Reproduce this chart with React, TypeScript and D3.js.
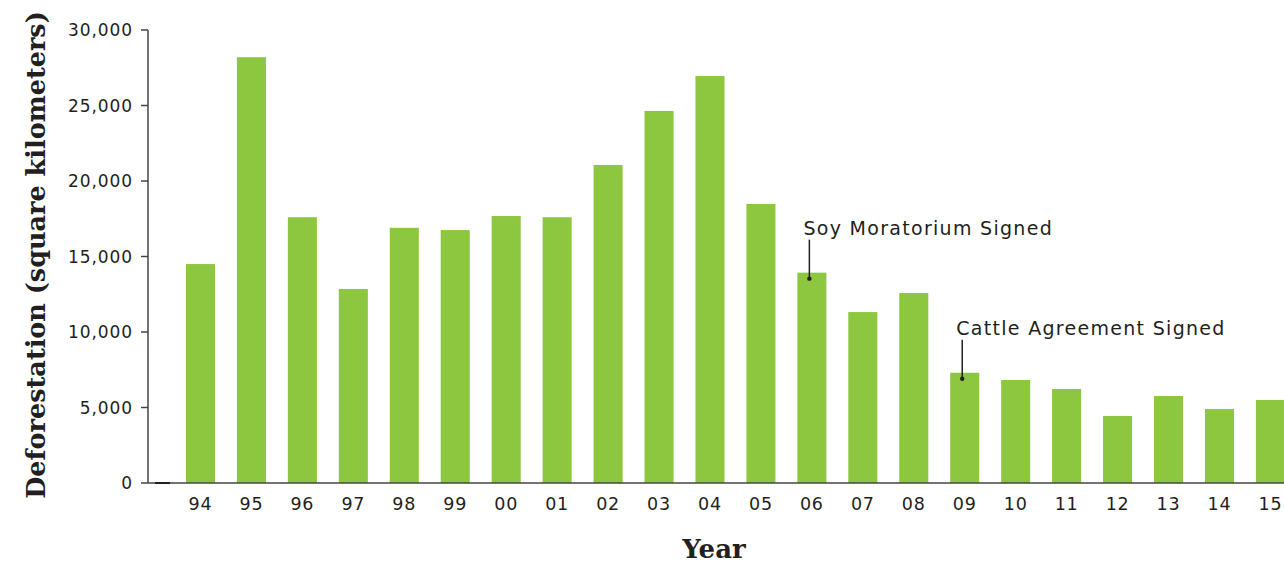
import { useMemo } from 'react';
import * as d3 from 'd3';

const YEARS = ['94', '95', '96', '97', '98', '99', '00', '01', '02', '03', '04', '05', '06', '07', '08', '09', '10', '11', '12', '13', '14', '15'];
const DEFORESTATION = [14500, 28200, 17600, 12850, 16900, 16750, 17680, 17600, 21060, 24640, 26950, 18480, 13930, 11320, 12580, 7300, 6820, 6225, 4440, 5760, 4900, 5500];
const Y_TICKS = [0, 5000, 10000, 15000, 20000, 25000, 30000];
const ANNOTATIONS = [
  { year: '06', label: 'Soy Moratorium Signed' },
  { year: '09', label: 'Cattle Agreement Signed' },
];

const WIDTH = 1284;
const HEIGHT = 566;
const SANS = '"DejaVu Sans", "Noto Sans", sans-serif';
const SERIF = '"DejaVu Serif", "Liberation Serif", serif';
const AXIS = '#444444';
const INK = '#231f20';
const GREEN = '#8dc63f';

export default function App() {
  const x = useMemo(
    () =>
      d3
        .scaleBand<string>()
        .domain(YEARS)
        .range([175, 175 + 22 * 50.95])
        .paddingInner(0.43)
        .paddingOuter(0.215),
    [],
  );
  const y = useMemo(() => d3.scaleLinear().domain([0, 30000]).range([483, 30]), []);
  const fmt = d3.format(',');

  return (
    <svg
      width={WIDTH}
      height={HEIGHT}
      style={{ position: 'absolute', left: 0, top: 0, display: 'block', background: '#fff' }}
    >
      {/* bars */}
      {YEARS.map((yr, i) => (
        <rect
          key={yr}
          x={x(yr)}
          y={y(DEFORESTATION[i])}
          width={x.bandwidth()}
          height={y(0) - y(DEFORESTATION[i])}
          fill={GREEN}
        />
      ))}

      {/* y axis */}
      <line x1={148} x2={148} y1={y(30000)} y2={y(0)} stroke={AXIS} strokeWidth={1.5} />
      {Y_TICKS.map((t) => (
        <g key={t} transform={`translate(148, ${y(t)})`}>
          <line x1={-7} x2={0} stroke={AXIS} strokeWidth={1.5} />
          <text
            x={-15}
            dy="0.36em"
            textAnchor="end"
            fontFamily={SANS}
            fontSize={17}
            letterSpacing={0.9}
            fill={INK}
          >
            {fmt(t)}
          </text>
        </g>
      ))}

      {/* x axis */}
      <line x1={148} x2={WIDTH} y1={y(0)} y2={y(0)} stroke={AXIS} strokeWidth={1.5} />
      <line x1={155} x2={170} y1={y(0)} y2={y(0)} stroke={INK} strokeWidth={2} />
      {YEARS.map((yr) => (
        <text
          key={yr}
          x={(x(yr) ?? 0) + x.bandwidth() / 2}
          y={510}
          textAnchor="middle"
          fontFamily={SANS}
          fontSize={17.5}
          letterSpacing={0.8}
          fill={INK}
        >
          {yr}
        </text>
      ))}

      {/* annotations */}
      {ANNOTATIONS.map((a) => {
        const i = YEARS.indexOf(a.year);
        const cx = (x(a.year) ?? 0) + x.bandwidth() / 2 - 2.5;
        const top = y(DEFORESTATION[i]);
        return (
          <g key={a.year}>
            <line x1={cx} x2={cx} y1={top - 33} y2={top + 6} stroke={INK} strokeWidth={1.5} />
            <circle cx={cx} cy={top + 6} r={2.2} fill={INK} />
            <text
              x={cx - 6}
              y={top - 38}
              fontFamily={SANS}
              fontSize={19}
              letterSpacing={1.3}
              fill={INK}
            >
              {a.label}
            </text>
          </g>
        );
      })}

      {/* axis titles */}
      <text
        transform={`translate(45, ${255}) rotate(-90)`}
        textAnchor="middle"
        fontFamily={SERIF}
        fontWeight="bold"
        fontSize={25.5}
        fill={INK}
      >
        Deforestation (square kilometers)
      </text>
      <text
        x={714}
        y={558}
        textAnchor="middle"
        fontFamily={SERIF}
        fontWeight="bold"
        fontSize={26}
        fill={INK}
      >
        Year
      </text>
    </svg>
  );
}
